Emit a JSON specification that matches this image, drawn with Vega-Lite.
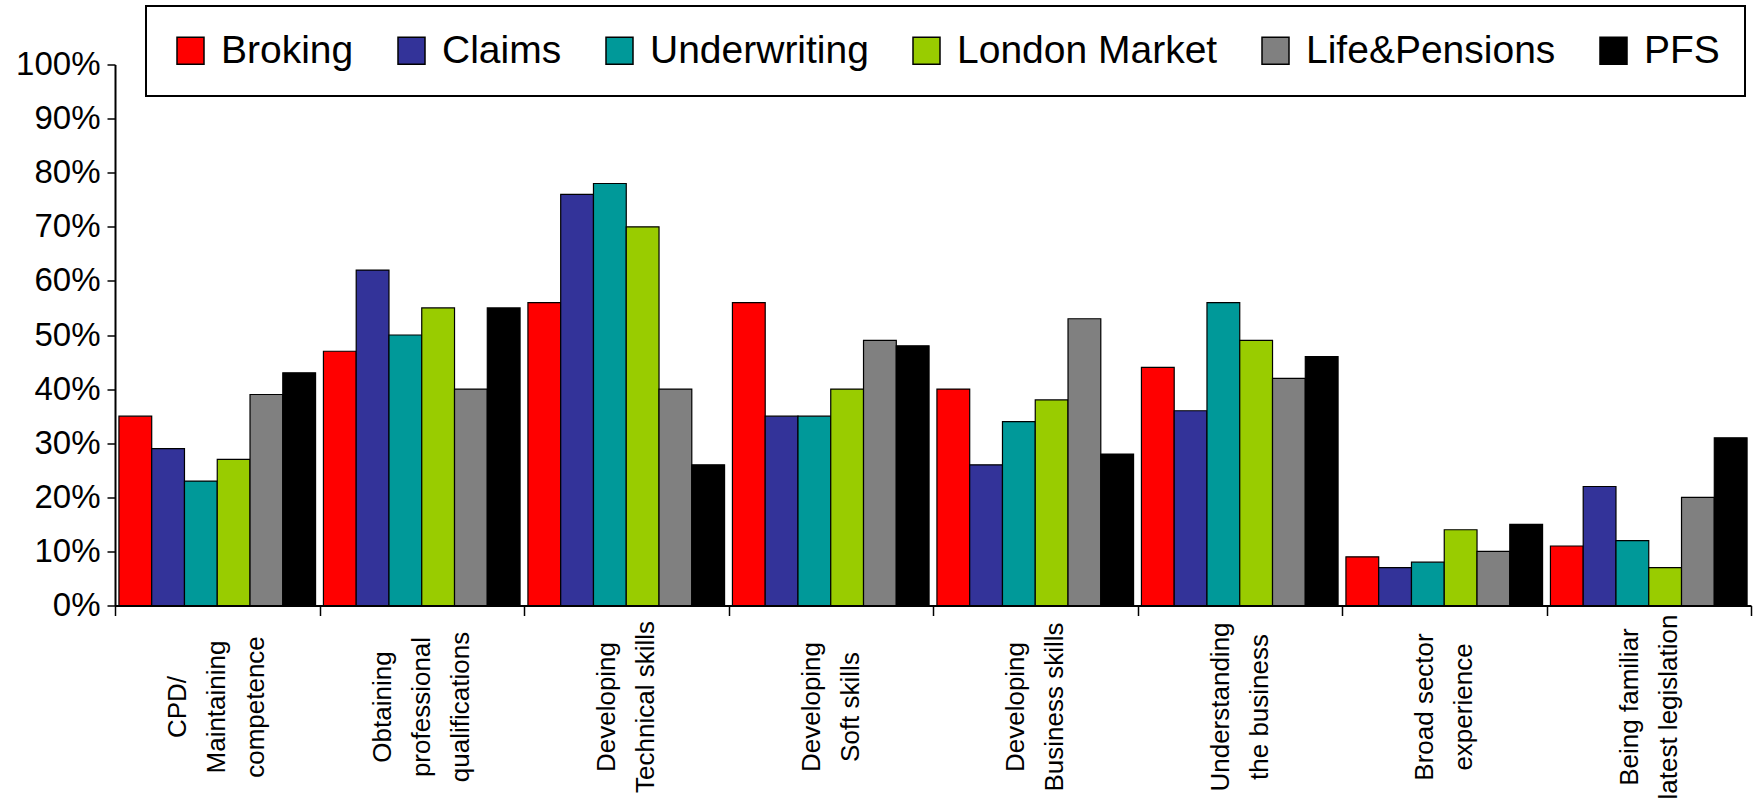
{
  "$schema": "https://vega.github.io/schema/vega-lite/v6.json",
  "width": 1636,
  "height": 541,
  "autosize": {"type": "none"},
  "padding": {"left": 115, "top": 64.5, "right": 7, "bottom": 202.5},
  "background": "white",
  "config": {
    "view": {"stroke": null},
    "axis": {"domainColor": "black", "tickColor": "black", "labelColor": "black", "grid": false},
    "legend": {"strokeWidth": 2}
  },
  "data": {
    "values": [
      {"skill": "CPD/|Maintaining|competence", "group": "Broking", "pct": 35},
      {"skill": "CPD/|Maintaining|competence", "group": "Claims", "pct": 29},
      {"skill": "CPD/|Maintaining|competence", "group": "Underwriting", "pct": 23},
      {"skill": "CPD/|Maintaining|competence", "group": "London Market", "pct": 27},
      {"skill": "CPD/|Maintaining|competence", "group": "Life&Pensions", "pct": 39},
      {"skill": "CPD/|Maintaining|competence", "group": "PFS", "pct": 43},
      {"skill": "Obtaining|professional|qualifications", "group": "Broking", "pct": 47},
      {"skill": "Obtaining|professional|qualifications", "group": "Claims", "pct": 62},
      {"skill": "Obtaining|professional|qualifications", "group": "Underwriting", "pct": 50},
      {"skill": "Obtaining|professional|qualifications", "group": "London Market", "pct": 55},
      {"skill": "Obtaining|professional|qualifications", "group": "Life&Pensions", "pct": 40},
      {"skill": "Obtaining|professional|qualifications", "group": "PFS", "pct": 55},
      {"skill": "Developing|Technical skills", "group": "Broking", "pct": 56},
      {"skill": "Developing|Technical skills", "group": "Claims", "pct": 76},
      {"skill": "Developing|Technical skills", "group": "Underwriting", "pct": 78},
      {"skill": "Developing|Technical skills", "group": "London Market", "pct": 70},
      {"skill": "Developing|Technical skills", "group": "Life&Pensions", "pct": 40},
      {"skill": "Developing|Technical skills", "group": "PFS", "pct": 26},
      {"skill": "Developing|Soft skills", "group": "Broking", "pct": 56},
      {"skill": "Developing|Soft skills", "group": "Claims", "pct": 35},
      {"skill": "Developing|Soft skills", "group": "Underwriting", "pct": 35},
      {"skill": "Developing|Soft skills", "group": "London Market", "pct": 40},
      {"skill": "Developing|Soft skills", "group": "Life&Pensions", "pct": 49},
      {"skill": "Developing|Soft skills", "group": "PFS", "pct": 48},
      {"skill": "Developing|Business skills", "group": "Broking", "pct": 40},
      {"skill": "Developing|Business skills", "group": "Claims", "pct": 26},
      {"skill": "Developing|Business skills", "group": "Underwriting", "pct": 34},
      {"skill": "Developing|Business skills", "group": "London Market", "pct": 38},
      {"skill": "Developing|Business skills", "group": "Life&Pensions", "pct": 53},
      {"skill": "Developing|Business skills", "group": "PFS", "pct": 28},
      {"skill": "Understanding|the business", "group": "Broking", "pct": 44},
      {"skill": "Understanding|the business", "group": "Claims", "pct": 36},
      {"skill": "Understanding|the business", "group": "Underwriting", "pct": 56},
      {"skill": "Understanding|the business", "group": "London Market", "pct": 49},
      {"skill": "Understanding|the business", "group": "Life&Pensions", "pct": 42},
      {"skill": "Understanding|the business", "group": "PFS", "pct": 46},
      {"skill": "Broad sector|experience", "group": "Broking", "pct": 9},
      {"skill": "Broad sector|experience", "group": "Claims", "pct": 7},
      {"skill": "Broad sector|experience", "group": "Underwriting", "pct": 8},
      {"skill": "Broad sector|experience", "group": "London Market", "pct": 14},
      {"skill": "Broad sector|experience", "group": "Life&Pensions", "pct": 10},
      {"skill": "Broad sector|experience", "group": "PFS", "pct": 15},
      {"skill": "Being familiar|latest legislation", "group": "Broking", "pct": 11},
      {"skill": "Being familiar|latest legislation", "group": "Claims", "pct": 22},
      {"skill": "Being familiar|latest legislation", "group": "Underwriting", "pct": 12},
      {"skill": "Being familiar|latest legislation", "group": "London Market", "pct": 7},
      {"skill": "Being familiar|latest legislation", "group": "Life&Pensions", "pct": 20},
      {"skill": "Being familiar|latest legislation", "group": "PFS", "pct": 31}
    ]
  },
  "mark": {"type": "bar", "stroke": "black", "strokeWidth": 1.2, "opacity": 1},
  "encoding": {
    "x": {
      "field": "skill",
      "type": "nominal",
      "sort": null,
      "scale": {"paddingInner": 0, "paddingOuter": 0},
      "axis": {
        "title": null,
        "tickBand": "extent",
        "labelExpr": "split(datum.label, '|')",
        "labelAngle": -90,
        "labelAlign": "center",
        "labelBaseline": {"condition": {"test": "length(split(datum.value, '|')) > 2", "value": "line-bottom"}, "value": "middle"},
        "labelOffset": -19.5,
        "labelFont": "Liberation Sans, Arial, sans-serif",
        "labelFontSize": 26,
        "labelLineHeight": 39,
        "labelPadding": 91,
        "labelLimit": 0,
        "labelOverlap": false,
        "tickSize": 10,
        "tickWidth": 1.5,
        "domainWidth": 2
      }
    },
    "xOffset": {
      "field": "group",
      "type": "nominal",
      "sort": ["Broking", "Claims", "Underwriting", "London Market", "Life&Pensions", "PFS"],
      "scale": {"paddingInner": 0, "paddingOuter": 0.12}
    },
    "y": {
      "field": "pct",
      "type": "quantitative",
      "scale": {"domain": [0, 100], "nice": false},
      "axis": {
        "title": null,
        "values": [0, 10, 20, 30, 40, 50, 60, 70, 80, 90, 100],
        "labelExpr": "datum.value + '%'",
        "labelFont": "Liberation Sans, Arial, sans-serif",
        "labelFontSize": 33,
        "labelPadding": 7,
        "tickSize": 8,
        "tickWidth": 1.5,
        "domainWidth": 2
      }
    },
    "color": {
      "field": "group",
      "type": "nominal",
      "sort": ["Broking", "Claims", "Underwriting", "London Market", "Life&Pensions", "PFS"],
      "scale": {
        "domain": ["Broking", "Claims", "Underwriting", "London Market", "Life&Pensions", "PFS"],
        "range": ["#FF0000", "#333399", "#009999", "#99CC00", "#808080", "#000000"]
      },
      "legend": {
        "title": null,
        "orient": "none",
        "legendX": 31,
        "legendY": -58.5,
        "direction": "horizontal",
        "columns": 6,
        "padding": 25,
        "strokeColor": "black",
        "fillColor": "white",
        "symbolType": "square",
        "symbolSize": 729,
        "symbolStrokeColor": "black",
        "symbolStrokeWidth": 1.5,
        "symbolOpacity": 1,
        "labelFont": "Liberation Sans, Arial, sans-serif",
        "labelFontSize": 39,
        "labelColor": "black",
        "labelOffset": 11,
        "labelLimit": 0,
        "columnPadding": 38
      }
    }
  }
}
